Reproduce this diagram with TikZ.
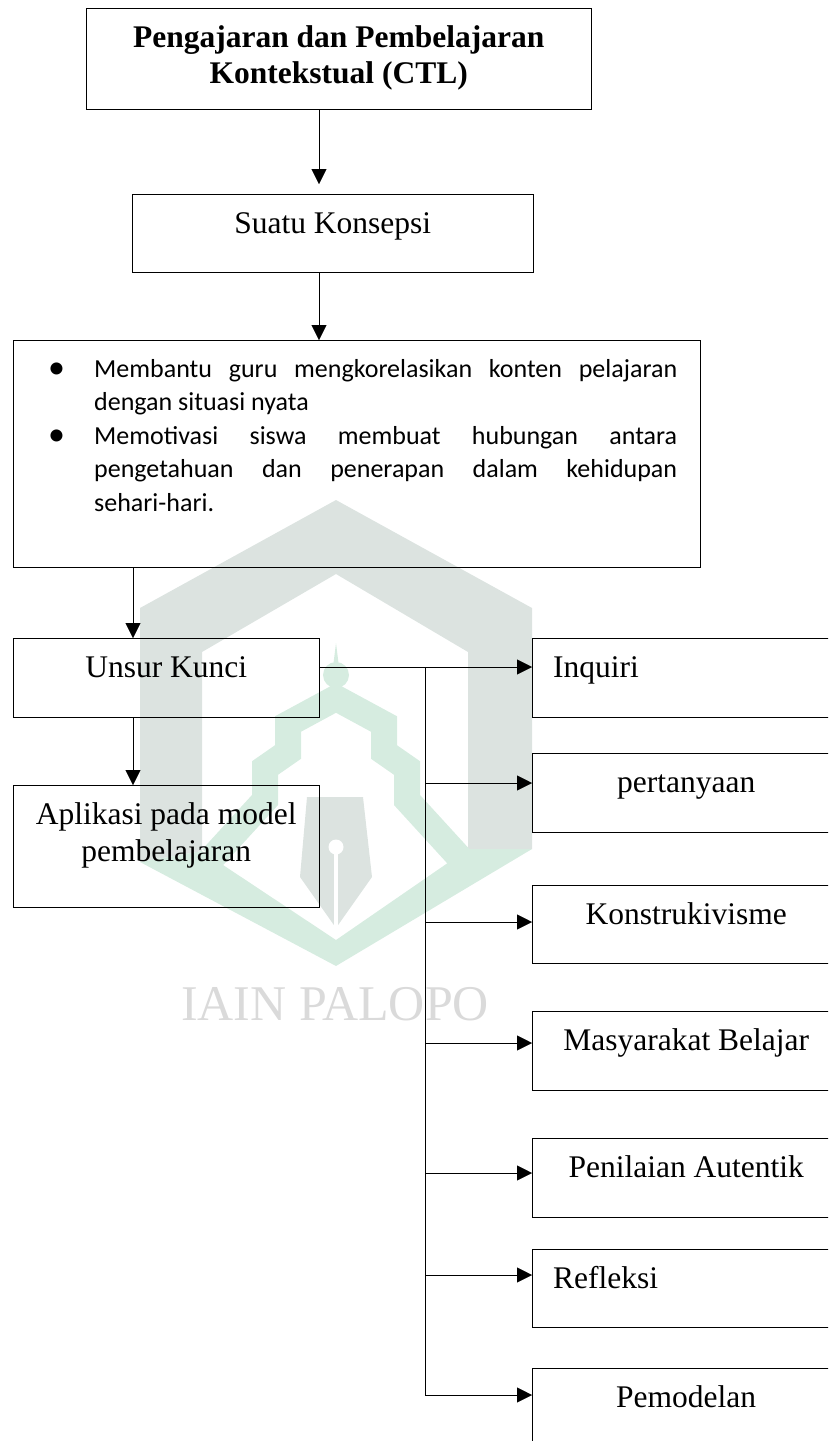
\documentclass[tikz,border=0pt]{standalone}
\usepackage{fontspec}
\setmainfont{Liberation Serif}
\newfontfamily\calibri{Carlito}
\usetikzlibrary{arrows.meta,calc,positioning}
\definecolor{abu}{HTML}{DCE3E0}
\definecolor{hijau}{HTML}{D6ECE0}
\definecolor{logoteks}{HTML}{DADADA}
\tikzset{
    -{Triangle[length=15pt,width=15pt]},line width=1.8pt,
    kotak/.style ={draw, rectangle, anchor=north west, inner ysep=0pt, text height=39pt, font=\fontsize{31.5}{36}\selectfont},
    kiri/.style = {text width=266pt, align=left, inner xsep=21pt},
    tengah/.style = {minimum width=308pt},
    poin/.style = {anchor=north west, inner sep=0pt, align=left, font=\calibri\fontsize{26}{33.5}\selectfont}
}
\newcommand{\butir}{\makebox[46pt][l]{\raisebox{-1pt}{\fontsize{34}{34}\selectfont\textbullet}}}
\newcommand{\rata}[1]{\makebox[583pt][s]{#1}}

\begin{document}
\begin{tikzpicture}[x=1pt,y=-1pt]
    \useasboundingbox (0,0) rectangle (828,1441);
    \clip (0,0) rectangle (828,1441);

    % logo di belakang
    \fill[abu] (140,862) -- (140,608) -- (336,500) -- (532,608) -- (532,849) -- (468,849) -- (468,652) -- (336,574) -- (202,652) -- (202,851) -- cycle;
    \fill[hijau] (140,862) -- (336,966) -- (532,849) -- (468,849) -- (336,940) -- (202,851) -- cycle;
    \draw[-, hijau, line width=26pt, line join=miter] (212,858) -- (265,800) -- (265,768) -- (288,752) -- (288,724) -- (336,698) -- (384,724) -- (384,752) -- (407,768) -- (407,800) -- (460,858);
    \fill[hijau] (336,675) circle (13);
    \fill[hijau] (332,675) -- (336,643) -- (340,675) -- cycle;
    \fill[abu] (307,797) -- (363,797) -- (372,877) -- (336,928) -- (300,877) -- cycle;
    \fill[white] (336,847) circle (7.5);
    \draw[-, white, line width=4pt] (336,850) -- (336,928);
    \node[text=logoteks, font=\fontsize{50}{50}\selectfont, anchor=base] (logo) at (335,1020) {IAIN PALOPO};

    % kotak kiri
    \node[kotak, minimum width=505pt, text height=75pt, text depth=26pt, align=center, font=\bfseries\fontsize{31.5}{36}\selectfont] (judul) at (86,8) {Pengajaran dan Pembelajaran\\Kontekstual (CTL)};
    \node[kotak, minimum width=401pt, text depth=39pt] (konsep) at (132,194) {Suatu Konsepsi};
    \node[kotak, minimum width=687pt, text height=0pt, text depth=227pt] (ket) at (13,340) {};
    \node[poin] (ketisi) at (48,359) {\butir\rata{Membantu guru mengkorelasikan konten pelajaran}\\
        \hspace*{46pt}dengan situasi nyata\\
        \butir\rata{Memotivasi siswa membuat hubungan antara}\\
        \hspace*{46pt}\rata{pengetahuan dan penerapan dalam kehidupan}\\
        \hspace*{46pt}sehari-hari.};
    \node[kotak, minimum width=306pt, text depth=40pt] (unsur) at (13,638) {Unsur Kunci};
    \node[kotak, minimum width=306pt, text height=76pt, text depth=46pt, align=center, font=\fontsize{31.5}{37}\selectfont] (aplikasi) at (13,785) {Aplikasi pada model\\pembelajaran};

    % kotak kanan
    \node[kotak, kiri, text depth=40pt] (inquiri) at (532,638) {Inquiri};
    \node[kotak, tengah, text depth=40pt] (tanya) at (532,753) {pertanyaan};
    \node[kotak, tengah, text depth=39pt] (konstruk) at (532,885) {Konstrukivisme};
    \node[kotak, tengah, text depth=40pt] (masyarakat) at (532,1011) {Masyarakat Belajar};
    \node[kotak, tengah, text depth=40pt] (penilaian) at (532,1138) {Penilaian Autentik};
    \node[kotak, kiri, text depth=39pt] (refleksi) at (532,1249) {Refleksi};
    \node[kotak, tengah, text depth=40pt] (pemodelan) at (532,1368) {Pemodelan};

    % panah
    \coordinate (sumbu) at (319,0);
    \coordinate (sumbukiri) at (133,0);
    \coordinate (cabang) at (425,667);
    \path (judul.south -| sumbu) edge ($(konsep.north -| sumbu)+(0,-10)$);
    \path (konsep.south -| sumbu) edge (ket.north -| sumbu);
    \path (ket.south -| sumbukiri) edge (unsur.north -| sumbukiri);
    \path (unsur.south -| sumbukiri) edge (aplikasi.north -| sumbukiri);
    \path (unsur.east |- cabang) edge (inquiri.west |- cabang);
    \foreach \n/\y in {tanya/783, konstruk/922, masyarakat/1043, penilaian/1173, refleksi/1275, pemodelan/1395}{
        \coordinate (c\n) at (425,\y);
        \path (c\n) edge (c\n -| \n.west);
    }
    \draw[-] (cabang) -- (cpemodelan);

\end{tikzpicture}
\end{document}
